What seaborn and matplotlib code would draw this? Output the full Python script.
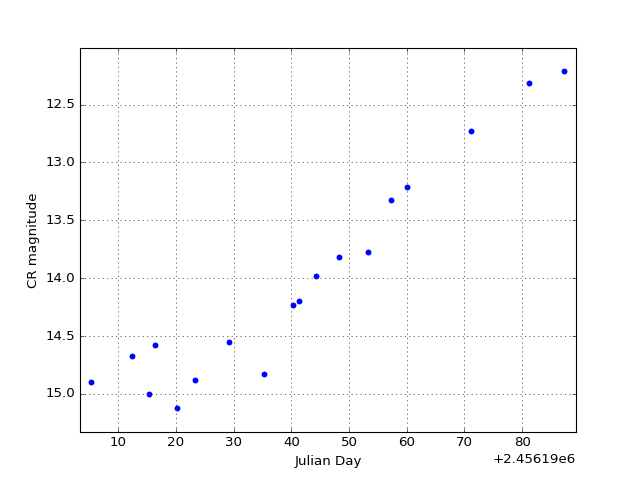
import matplotlib
matplotlib.use("Agg")
import matplotlib.pyplot as plt
import matplotlib.ticker as mticker
import seaborn as sns
import pandas as pd

jd = [2456195.33, 2456202.32, 2456205.31, 2456206.35, 2456210.21, 2456213.22,
      2456219.21, 2456225.22, 2456230.29, 2456231.33, 2456234.33, 2456238.30,
      2456243.24, 2456247.30, 2456250.10, 2456261.16, 2456271.21, 2456277.20]
mag = [14.894, 14.669, 15.003, 14.580, 15.124, 14.879,
       14.551, 14.827, 14.233, 14.200, 13.985, 13.816,
       13.773, 13.327, 13.210, 12.724, 12.316, 12.206]

plt.style.use("classic")
df = pd.DataFrame({"Julian Day": jd, "CR magnitude": mag})

fig = plt.figure(figsize=(8, 6), dpi=80)
ax = fig.add_axes([0.125, 0.1, 0.775, 0.8])
sns.scatterplot(data=df, x="Julian Day", y="CR magnitude", ax=ax,
                color="blue", edgecolor="blue", linewidth=0, s=28)
ax.set_xlim(min(jd) - 1.97, max(jd) + 2.15)
ax.set_ylim(max(mag) + 0.205, min(mag) - 0.195)
ax.xaxis.set_major_locator(mticker.MultipleLocator(10))
ax.xaxis.set_major_formatter(mticker.ScalarFormatter(useOffset=2456190))
ax.grid(True, linestyle=":", color="0.3", linewidth=0.8)
ax.set_xlabel("Julian Day")
ax.set_ylabel("CR magnitude")
fig.savefig("out.png", dpi=80)
